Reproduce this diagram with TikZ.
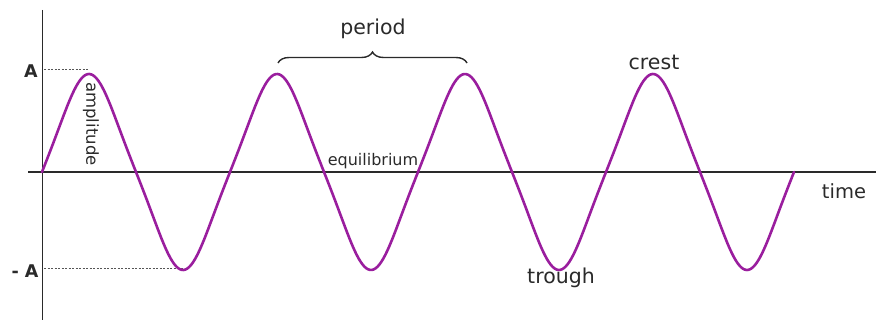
\documentclass[tikz,border=0pt]{standalone}
\usepackage{fontspec}
\setmainfont{DejaVu Sans}
\usetikzlibrary{decorations.pathreplacing}
\definecolor{wave}{HTML}{9A1E9E}
\definecolor{ink}{HTML}{2A2A2A}
\tikzset{
  axis/.style={draw=ink, line width=1.6pt},
  guide/.style={draw=ink!80, line width=0.8pt, dash pattern=on 2pt off 1.5pt},
  lbl/.style={text=ink, inner sep=0pt, font=\fontsize{20.5}{21}\selectfont},
  small/.style={text=ink, inner sep=0pt, font=\fontsize{16}{16}\selectfont},
}
\begin{document}
\begin{tikzpicture}[x=1pt,y=-1pt]
\useasboundingbox (0,0) rectangle (880,320);
% axes
\coordinate (vtop) at (42.5,10);
\coordinate (vbot) at (42.5,320);
\coordinate (hl) at (28,172);
\coordinate (hr) at (876,172);
\draw[axis] (vtop) -- (vbot);
\draw[axis] (hl) -- (hr);
% guides
\coordinate (gA1) at (44,69);
\coordinate (gA2) at (89,69);
\coordinate (gB1) at (44,268);
\coordinate (gB2) at (183,268);
\draw[guide] (gA1) -- (gA2);
\draw[guide] (gB1) -- (gB2);
% wave
\draw[wave, line width=2.6pt, line join=round, line cap=round]
  plot[domain=0:752, samples=400, smooth]
  ({42+\x}, {172-98*(sin(1.914894*\x)-0.06*sin(5.744681*\x))/1.06});
% brace
\coordinate (bl) at (278,63);
\coordinate (br) at (467,63);
\draw[draw=ink, line width=1.4pt, decoration={brace, amplitude=11pt}, decorate] (bl) -- (br);
% labels
\node[lbl, font=\fontsize{17.5}{18}\selectfont\bfseries] (A) at (31,71) {A};
\node[lbl, font=\fontsize{17.5}{18}\selectfont\bfseries] (mA) at (25,271) {- A};
\node[small, rotate=-90, font=\fontsize{16.5}{17}\selectfont] (amp) at (91,124) {amplitude};
\node[lbl] (period) at (373,29) {period};
\node[small] (eq) at (373,161) {equilibrium};
\node[lbl] (crest) at (654,62) {crest};
\node[lbl] (trough) at (561,278) {trough};
\node[lbl, font=\fontsize{19.5}{20}\selectfont] (time) at (844,191) {time};
\end{tikzpicture}
\end{document}
